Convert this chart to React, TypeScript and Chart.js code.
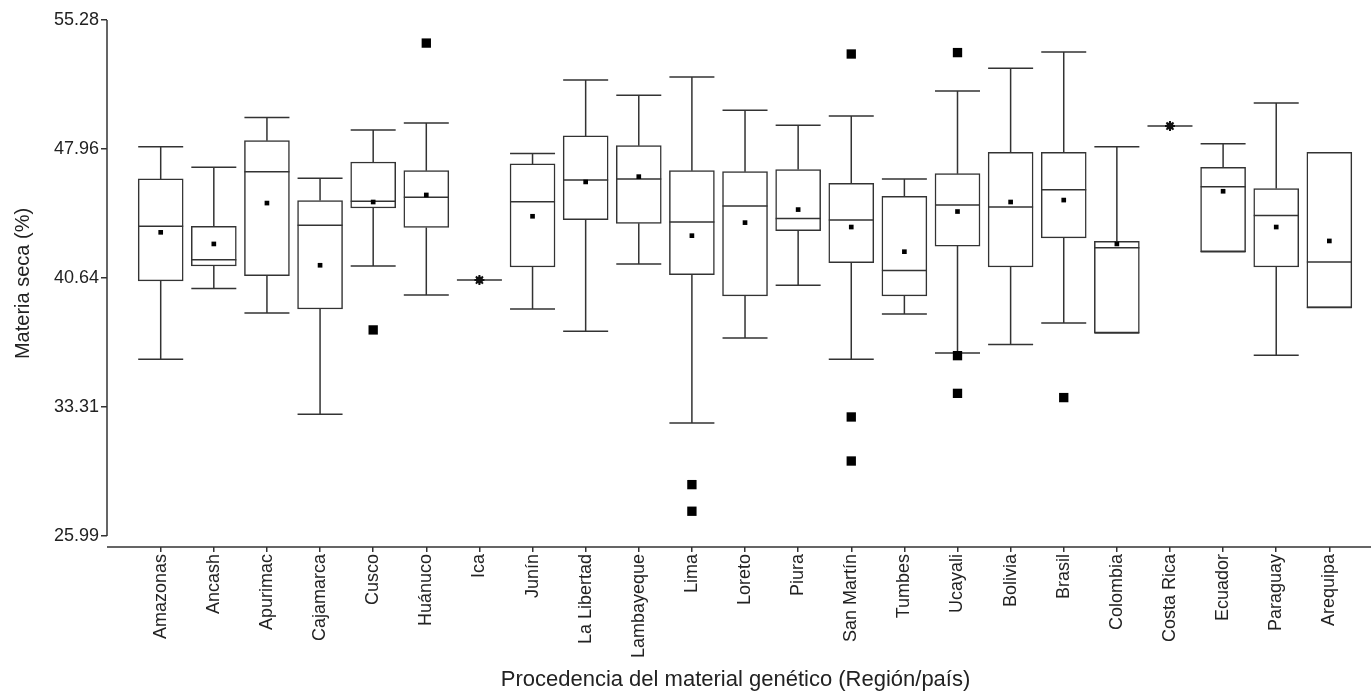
import React, { useEffect, useRef } from "react";
import { Chart, registerables } from "chart.js";

Chart.register(...registerables);

const categories = [
  "Amazonas", "Ancash", "Apurimac", "Cajamarca", "Cusco", "Huánuco", "Ica", "Junín",
  "La Libertad", "Lambayeque", "Lima", "Loreto", "Piura", "San Martín", "Tumbes", "Ucayali",
  "Bolivia", "Brasil", "Colombia", "Costa Rica", "Ecuador", "Paraguay", "Arequipa",
];

const whiskerLow = [36.02, 40.04, 38.65, 32.9, 41.32, 39.67, 40.52, 38.88, 37.61, 41.43, 32.41, 37.23, 40.22, 36.02, 38.59, 36.38, 36.87, 38.08, 37.52, 49.26, 42.13, 36.25, 38.96];
const q1 = [40.47, 41.32, 40.77, 38.88, 44.61, 43.51, 40.52, 41.26, 43.95, 43.74, 40.83, 39.62, 43.33, 41.51, 39.62, 42.45, 41.26, 42.91, 37.52, 49.26, 42.13, 41.26, 38.96];
const median = [43.57, 41.68, 46.67, 43.63, 44.99, 45.22, 40.52, 44.97, 46.2, 46.26, 43.82, 44.72, 44.01, 43.93, 41.06, 44.78, 44.67, 45.65, 42.36, 49.26, 45.82, 44.18, 41.55];
const q3 = [46.26, 43.57, 48.43, 45.03, 47.22, 46.73, 40.52, 47.11, 48.7, 48.15, 46.73, 46.67, 46.79, 46.01, 45.27, 46.56, 47.77, 47.77, 42.72, 49.26, 46.92, 45.71, 47.77];
const whiskerHigh = [48.09, 46.92, 49.74, 46.3, 49.04, 49.43, 40.52, 47.71, 51.87, 51.01, 52.05, 50.16, 49.3, 49.83, 46.26, 51.25, 52.54, 53.46, 48.09, 49.26, 48.26, 50.57, 47.77];
const means = [43.23, 42.57, 44.89, 41.36, 44.95, 45.35, 40.52, 44.14, 46.09, 46.39, 43.04, 43.78, 44.52, 43.53, 42.13, 44.41, 44.95, 45.06, 42.57, 49.26, 45.56, 43.53, 42.74];
const outliers: number[][] = [
  [], [], [], [], [37.69], [53.97], [], [], [], [], [28.91, 27.4], [], [], [53.35, 32.75, 30.25],
  [], [53.43, 36.23, 34.09], [], [33.85], [], [], [], [], [],
];
const yTicks = [25.99, 33.31, 40.64, 47.96, 55.28];

const LINE_COLOR = "#333333";
const LINE_WIDTH = 1.5;
const BOX_WIDTH = 45;
const FONT = "'Liberation Sans', Arial, sans-serif";
const TEXT_COLOR = "#222222";
// horizontal placement: first category centre (px) and spacing (px) between categories
const FIRST_CENTER_PX = 160.7;
const CATEGORY_STEP_PX = 53.12;

const boxPlugin = {
  id: "boxWhiskers",
  afterLayout(chart: any) {
    const xs = chart.scales.x;
    const min = (xs.left - FIRST_CENTER_PX) / CATEGORY_STEP_PX;
    const max = min + (xs.right - xs.left) / CATEGORY_STEP_PX;
    xs.min = min;
    xs.max = max;
    xs.configure();
  },
  afterDatasetDraw(chart: any, args: any) {
    if (args.index !== 0) return;
    const { ctx } = chart;
    const xs = chart.scales.x;
    const ys = chart.scales.y;
    const half = BOX_WIDTH / 2;
    ctx.save();
    ctx.strokeStyle = LINE_COLOR;
    ctx.lineWidth = LINE_WIDTH;
    categories.forEach((_, i) => {
      const cx = xs.getPixelForValue(i);
      const pLow = ys.getPixelForValue(whiskerLow[i]);
      const pHigh = ys.getPixelForValue(whiskerHigh[i]);
      const pQ1 = ys.getPixelForValue(q1[i]);
      const pQ3 = ys.getPixelForValue(q3[i]);
      const pMed = ys.getPixelForValue(median[i]);
      ctx.beginPath();
      ctx.moveTo(cx, pQ1);
      ctx.lineTo(cx, pLow);
      ctx.moveTo(cx, pQ3);
      ctx.lineTo(cx, pHigh);
      ctx.moveTo(cx - half, pLow);
      ctx.lineTo(cx + half, pLow);
      if (whiskerHigh[i] !== q3[i] && whiskerHigh[i] !== whiskerLow[i]) {
        ctx.moveTo(cx - half, pHigh);
        ctx.lineTo(cx + half, pHigh);
      }
      if (q1[i] !== q3[i]) {
        ctx.moveTo(cx - half, pMed);
        ctx.lineTo(cx + half, pMed);
      }
      ctx.stroke();
    });
    ctx.restore();
  },
  afterDatasetsDraw(chart: any) {
    const { ctx, chartArea } = chart;
    const ys = chart.scales.y;
    const x = chartArea.left;
    ctx.save();
    ctx.strokeStyle = LINE_COLOR;
    ctx.lineWidth = LINE_WIDTH;
    ctx.beginPath();
    ctx.moveTo(x, ys.getPixelForValue(yTicks[yTicks.length - 1]));
    ctx.lineTo(x, ys.getPixelForValue(yTicks[0]));
    ctx.moveTo(x, chartArea.bottom);
    ctx.lineTo(chart.width, chartArea.bottom);
    ctx.stroke();
    ctx.restore();
  },
};

export default function App() {
  const canvasRef = useRef<HTMLCanvasElement | null>(null);

  useEffect(() => {
    if (!canvasRef.current) return;
    const boxData = categories
      .map((_, i) => ({ x: i, y: [q1[i], q3[i]] }))
      .filter((d) => d.y[0] !== d.y[1]);
    const meanData = categories.map((_, i) => ({ x: i, y: means[i] }));
    const outlierData: { x: number; y: number }[] = [];
    outliers.forEach((arr, i) => arr.forEach((v) => outlierData.push({ x: i, y: v })));
    const singleData = categories
      .map((_, i) => ({ x: i, y: median[i], s: q1[i] === q3[i] }))
      .filter((d) => d.s)
      .map((d) => ({ x: d.x, y: d.y }));

    const chart = new Chart(canvasRef.current, {
      type: "scatter",
      data: {
        datasets: [
          {
            type: "bar",
            data: boxData as any,
            backgroundColor: "#ffffff",
            borderColor: LINE_COLOR,
            borderWidth: LINE_WIDTH,
            borderSkipped: false,
            barThickness: BOX_WIDTH,
            order: 5,
          } as any,
          {
            type: "scatter",
            data: meanData,
            pointStyle: "rect",
            pointRadius: 3.3,
            backgroundColor: "#000000",
            borderColor: "#000000",
            borderWidth: 0,
            order: 3,
          },
          {
            type: "scatter",
            data: singleData,
            pointStyle: "star",
            pointRadius: 5,
            backgroundColor: "#111111",
            borderColor: "#111111",
            borderWidth: 2,
            order: 2,
          },
          {
            type: "scatter",
            data: singleData,
            pointStyle: "circle",
            pointRadius: 3.5,
            backgroundColor: "#111111",
            borderColor: "#111111",
            borderWidth: 0,
            order: 1,
          },
          {
            type: "scatter",
            data: outlierData,
            pointStyle: "rect",
            pointRadius: 6.6,
            backgroundColor: "#000000",
            borderColor: "#000000",
            borderWidth: 0,
            order: 0,
          },
        ],
      },
      options: {
        responsive: false,
        animation: false,
        events: [],
        layout: { padding: { top: 20, left: 0, right: 0, bottom: 0 } },
        plugins: {
          legend: { display: false },
          tooltip: { enabled: false },
        },
        scales: {
          x: {
            type: "linear",
            min: -1.011,
            max: 22.784,
            offset: false,
            afterBuildTicks: (scale: any) => {
              scale.ticks = categories.map((_, i) => ({ value: i }));
            },
            afterFit: (scale: any) => {
              scale.height = 146;
              scale.paddingLeft = 0;
              scale.paddingRight = 0;
            },
            grid: {
              display: true,
              drawOnChartArea: false,
              drawTicks: true,
              tickLength: 5,
              color: LINE_COLOR,
              lineWidth: LINE_WIDTH,
              offset: false,
            },
            border: { display: false },
            ticks: {
              autoSkip: false,
              minRotation: 90,
              maxRotation: 90,
              padding: 2,
              color: TEXT_COLOR,
              font: { family: FONT, size: 18 },
              callback: (value: any) => categories[Math.round(Number(value))] ?? "",
            },
            title: {
              display: true,
              text: "Procedencia del material genético (Región/país)",
              color: TEXT_COLOR,
              font: { family: FONT, size: 22 },
              padding: { top: 4, bottom: 0 },
            },
          },
          y: {
            type: "linear",
            min: 25.37,
            max: 55.28,
            afterBuildTicks: (scale: any) => {
              scale.ticks = yTicks.map((v) => ({ value: v }));
            },
            afterFit: (scale: any) => {
              scale.width = 107;
            },
            grid: {
              display: true,
              drawOnChartArea: false,
              drawTicks: true,
              tickLength: 6,
              color: LINE_COLOR,
              lineWidth: LINE_WIDTH,
            },
            border: { display: false },
            ticks: {
              padding: 2,
              color: TEXT_COLOR,
              font: { family: FONT, size: 18 },
              callback: (value: any) => Number(value).toFixed(2),
            },
            title: {
              display: true,
              text: "Materia seca (%)",
              color: TEXT_COLOR,
              font: { family: FONT, size: 20 },
              padding: { top: 11, bottom: 0 },
            },
          },
        },
      },
      plugins: [boxPlugin],
    });
    return () => chart.destroy();
  }, []);

  return (
    <div style={{ position: "absolute", left: 0, top: 0, width: 1371, height: 693, background: "#ffffff" }}>
      <canvas ref={canvasRef} width={1371} height={693} />
    </div>
  );
}
